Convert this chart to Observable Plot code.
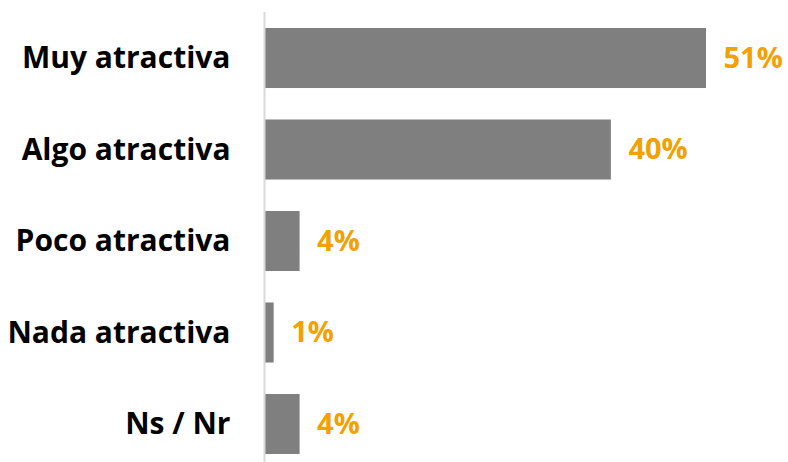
<!DOCTYPE html>
<html>
<head>
<meta charset="utf-8">
<script src="https://cdn.jsdelivr.net/npm/d3@7"></script>
<script src="https://cdn.jsdelivr.net/npm/@observablehq/plot@0.6"></script>
<style>
  html, body { margin: 0; padding: 0; background: #fff; }
  #chart svg { display: block; }
</style>
</head>
<body>
<div id="chart"></div>
<script>
const categories = ["Muy atractiva", "Algo atractiva", "Poco atractiva", "Nada atractiva", "Ns / Nr"];
const values = [51, 40, 4, 1, 4];
const valueLabels = ["51%", "40%", "4%", "1%", "4%"];

const data = categories.map((c, i) => ({category: c, value: values[i], label: valueLabels[i]}));

const chart = Plot.plot({
  width: 788,
  height: 462,
  marginLeft: 265,
  marginRight: 82,
  marginTop: 12,
  marginBottom: 0,
  style: {fontFamily: "'Open Sans', sans-serif", background: "#fff"},
  x: {domain: [0, 51], axis: null},
  y: {domain: categories, paddingInner: 0.344, paddingOuter: 0.131, align: 0.667, round: false, label: null},
  marks: [
    Plot.barX(data, {x: "value", y: "category", fill: "#7f7f7f"}),
    Plot.ruleX([0], {stroke: "#d9d9d9", strokeWidth: 2, dx: -1}),
    Plot.axisY({tickSize: 0, tickPadding: 35, fontSize: 30, fontWeight: "bold", fill: "#000", label: null}),
    Plot.text(data, {x: "value", y: "category", text: "label", dx: 17, textAnchor: "start", fill: "#f2a100", fontSize: 29, fontWeight: "bold"})
  ]
});
document.getElementById("chart").appendChild(chart);
</script>
</body>
</html>
